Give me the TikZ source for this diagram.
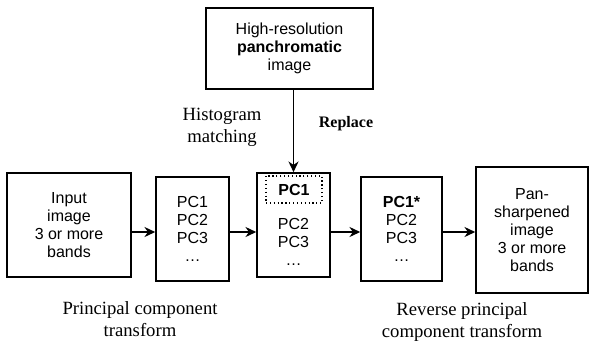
\documentclass[tikz,border=0pt]{standalone}
\usepackage{fontspec}
\setmainfont{Liberation Sans}
\newfontfamily\timesfont{Liberation Serif}
\usetikzlibrary{arrows.meta}

\tikzset{
    box/.style={draw=black, line width=1.2pt, inner sep=0pt, align=center,
        font=\fontsize{12}{13.5}\selectfont},
    arr/.style={line width=1.2pt, -{Stealth[length=8pt, width=7.5pt, inset=2.5pt]}},
    caption/.style={align=center, font=\timesfont\fontsize{14}{16.5}\selectfont}
}

\begin{document}
\begin{tikzpicture}[x=0.75pt, y=-0.75pt]
    % Keep the page the size of the reference
    \useasboundingbox (0,0) rectangle (591,344);

    % Top: the panchromatic image
    \node[box, minimum width=125.25pt, minimum height=60.75pt] (pan) at (289.5,48.5)
        {High-resolution\\\textbf{panchromatic}\\image};

    % The row of boxes
    \node[box, minimum width=93pt, minimum height=78pt] (input) at (69,225)
        {Input\\image\\3 or more\\bands};
    \node[box, minimum width=54.75pt, minimum height=78pt] (pcs) at (192.5,229)
        {PC1\\PC2\\PC3\\\ldots};
    \node[box, minimum width=54.75pt, minimum height=78pt] (repl) at (293.5,225) {};
    \node[box, minimum width=60.75pt, minimum height=78pt] (rpcs) at (401.5,229)
        {\textbf{PC1*}\\PC2\\PC3\\\ldots};
    \node[box, minimum width=84pt, minimum height=94.5pt] (sharp) at (532,230)
        {Pan-\\sharpened\\image\\3 or more\\bands};

    % Inside the middle box: the replaced PC1 and the rest
    \node[draw, dotted, line width=0.9pt, minimum width=42pt, minimum height=20.25pt,
        inner sep=0pt, font=\fontsize{12}{13.5}\selectfont\bfseries] (pcone) at (294,189.5) {PC1};
    \node[align=center, inner sep=0pt, font=\fontsize{12}{13.5}\selectfont] (rest) at (293.5,242)
        {PC2\\PC3\\\ldots};

    % Arrows
    \draw[arr] (input.east |- 0,232) -- (pcs.west |- 0,232);
    \draw[arr] (pcs.east |- 0,232) -- (repl.west |- 0,232);
    \draw[arr] (repl.east |- 0,232) -- (rpcs.west |- 0,232);
    \draw[arr] (rpcs.east |- 0,232) -- (sharp.west |- 0,232);
    \draw[arr] (repl.north |- pan.south) -- (repl.north);

    % Labels
    \node[caption] (histo) at (222,127) {Histogram\\matching};
    \node[font=\timesfont\fontsize{12}{14}\selectfont\bfseries] (replace) at (346,124) {Replace};
    \node[caption] (pct) at (140,319) {Principal component\\transform};
    \node[caption] (rpct) at (462,322) {Reverse principal\\component transform};
\end{tikzpicture}
\end{document}
